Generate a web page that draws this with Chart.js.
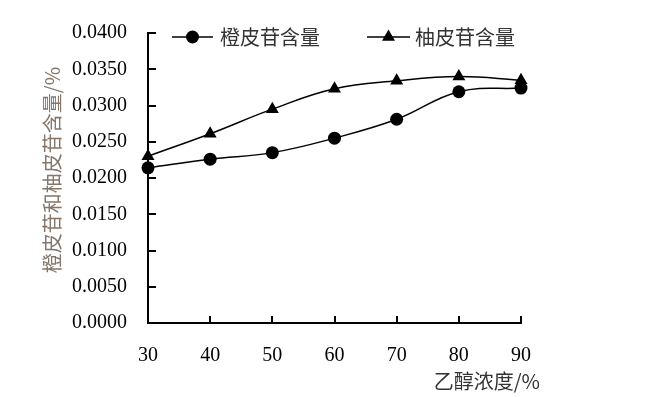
<!DOCTYPE html>
<html>
<head>
<meta charset="utf-8">
<script src="https://cdn.jsdelivr.net/npm/chart.js@4"></script>
<style>
    html, body { margin: 0; padding: 0; background: #fff; }
    #wrap { width: 666px; height: 397px; }
</style>
</head>
<body>
<div id="wrap"><canvas id="lineChart" width="666" height="397"></canvas></div>
<script>
const EthanolLabels = ['30', '40', '50', '60', '70', '80', '90'];
const HesperidinValues = [0.0214, 0.0226, 0.0235, 0.0255, 0.0281, 0.0319, 0.0324];
const NaringinValues = [0.0230, 0.0261, 0.0295, 0.0323, 0.0334, 0.0340, 0.0335];
const SeriesNames = ['橙皮苷含量', '柚皮苷含量'];
const XTitle = '乙醇浓度/%';
const YTitle = '橙皮苷和柚皮苷含量/%';

const CjkFont = '"Noto Sans CJK SC", sans-serif';
const NumFont = '"Liberation Serif", "Times New Roman", serif';

// inward tick marks, titles and the line+marker legend
const jVarLocalDecorPlugin = {
    id: 'decor',
    afterDraw: (chart) => {
        const ctx = chart.ctx;
        const { left, right, top, bottom } = chart.chartArea;
        const xScale = chart.scales.x;
        const yScale = chart.scales.y;

        ctx.save();
        ctx.strokeStyle = '#000';
        ctx.lineWidth = 2;
        yScale.ticks.forEach((t) => {
            const y = Math.round(yScale.getPixelForValue(t.value));
            ctx.beginPath();
            ctx.moveTo(left, y);
            ctx.lineTo(left + 8, y);
            ctx.stroke();
        });
        xScale.ticks.forEach((t, i) => {
            const x = Math.round(xScale.getPixelForTick(i));
            ctx.beginPath();
            ctx.moveTo(x, bottom);
            ctx.lineTo(x, bottom - 7);
            ctx.stroke();
        });

        // x title, right side under the axis
        ctx.fillStyle = '#333';
        ctx.font = '20px ' + CjkFont;
        ctx.textAlign = 'right';
        ctx.textBaseline = 'middle';
        ctx.fillText(XTitle, 540, 381);

        // y title, rotated
        ctx.save();
        ctx.translate(52, 170);
        ctx.rotate(-Math.PI / 2);
        ctx.fillStyle = '#86766a';
        ctx.textAlign = 'center';
        ctx.fillText(YTitle, 0, 0);
        ctx.restore();

        // legend
        const legendItems = [
            { x0: 172, x1: 213, tx: 220, ds: chart.data.datasets[0] },
            { x0: 367, x1: 410, tx: 415, ds: chart.data.datasets[1] }
        ];
        const ly = 37;
        legendItems.forEach((item) => {
            ctx.strokeStyle = '#000';
            ctx.fillStyle = '#000';
            ctx.lineWidth = 1.5;
            ctx.beginPath();
            ctx.moveTo(item.x0, ly);
            ctx.lineTo(item.x1, ly);
            ctx.stroke();
            Chart.helpers.drawPoint(ctx, {
                pointStyle: item.ds.pointStyle,
                radius: item.ds.pointRadius,
                borderWidth: 0
            }, (item.x0 + item.x1) / 2, ly);
            ctx.fillStyle = '#333';
            ctx.textAlign = 'left';
            ctx.textBaseline = 'middle';
            ctx.fillText(item.ds.label, item.tx, ly);
        });
        ctx.restore();
    }
};

const StartFunc = () => {
    const ctx = document.getElementById('lineChart');

    new Chart(ctx, {
        type: 'line',
        data: {
            labels: EthanolLabels,
            datasets: [{
                label: SeriesNames[0],
                data: HesperidinValues,
                borderColor: '#000',
                backgroundColor: '#000',
                borderWidth: 1.5,
                pointStyle: 'circle',
                pointRadius: 6.5,
                pointBorderWidth: 0,
                tension: 0.4
            }, {
                label: SeriesNames[1],
                data: NaringinValues,
                borderColor: '#000',
                backgroundColor: '#000',
                borderWidth: 1.5,
                pointStyle: 'triangle',
                pointRadius: 7.5,
                pointBorderWidth: 0,
                tension: 0.4
            }]
        },
        options: {
            responsive: false,
            animation: false,
            clip: false,
            layout: { padding: { left: 0, right: 145, top: 30, bottom: 0 } },
            plugins: {
                legend: { display: false },
                tooltip: { enabled: false }
            },
            scales: {
                x: {
                    grid: { display: false, drawTicks: false },
                    border: { display: true, color: '#000', width: 2 },
                    ticks: {
                        color: '#000',
                        font: { family: NumFont, size: 20 },
                        padding: 21,
                        maxRotation: 0
                    },
                    afterFit: (scale) => { scale.height = 74; }
                },
                y: {
                    min: 0,
                    max: 0.04,
                    grid: { display: false, drawTicks: false },
                    border: { display: true, color: '#000', width: 2 },
                    ticks: {
                        stepSize: 0.005,
                        color: '#000',
                        font: { family: NumFont, size: 20 },
                        padding: 21,
                        callback: (v) => v.toFixed(4)
                    },
                    afterFit: (scale) => { scale.width = 148; }
                }
            }
        },
        plugins: [jVarLocalDecorPlugin]
    });
};

StartFunc();
</script>
</body>
</html>
